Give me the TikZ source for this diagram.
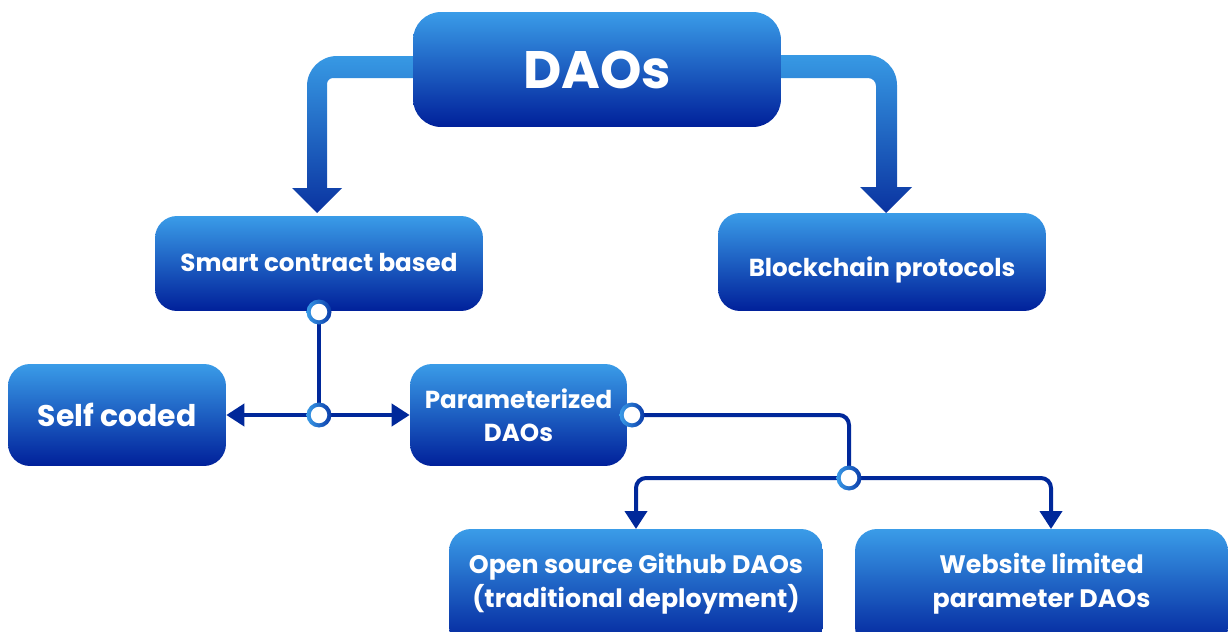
\documentclass[tikz,border=0pt]{standalone}
\usepackage{fontspec}
\setmainfont{Poppins}
\usetikzlibrary{arrows.meta}
\definecolor{boxtop}{HTML}{3A9CE8}
\definecolor{boxbot}{HTML}{00209A}
\definecolor{bandtop}{HTML}{3799E4}
\definecolor{bandbot}{HTML}{0A33A0}
\definecolor{navy}{HTML}{00289A}
\definecolor{ringlight}{HTML}{3A9CE8}
\definecolor{ringdark}{HTML}{0A3AA8}
\newcommand{\lowerby}[2]{\raisebox{#1}[\height][\depth]{#2}}
\tikzset{
  box/.style={rounded corners=0.44cm, top color=boxtop, bottom color=boxbot,
    text=white, font=\bfseries\fontsize{14}{19}\selectfont, align=center, inner sep=0pt},
  conn/.style={draw=navy, line width=0.08cm},
  tip/.style={-{Triangle[length=0.36cm,width=0.44cm]}},
  junction/.style={circle, minimum size=0.5cm, inner sep=0pt,
    left color=ringlight, right color=ringdark,
    path picture={\fill[white] (path picture bounding box.center) circle (0.165cm);}},
}
\begin{document}
\begin{tikzpicture}[x=0.02cm, y=-0.02cm]
\useasboundingbox (0,0) rectangle (1228,632);
\clip (0,0) rectangle (1228,632);
% big arrows
\shade[top color=bandtop, bottom color=bandbot]
  (430,56) -- (337,56) .. controls (320.4,56) and (307,69.4) .. (307,86)
  -- (307,188) -- (292,188) -- (317,213) -- (342,188) -- (327,188)
  -- (327,84) .. controls (327,80.7) and (329.7,78) .. (333,78) -- (430,78) -- cycle;
\shade[top color=bandtop, bottom color=bandbot]
  (770,55) -- (867,55) .. controls (883.5,55) and (897,68.4) .. (897,85)
  -- (897,187) -- (912,187) -- (886,213) -- (860,187) -- (876,187)
  -- (876,86) .. controls (876,81.6) and (872.4,78) .. (868,78) -- (770,78) -- cycle;
% boxes
\node[box, rounded corners=0.56cm, minimum width=7.36cm, minimum height=2.3cm,
  font=\bfseries\fontsize{30}{36}\selectfont] (daos) at (597,69.5) {DAOs};
\node[box, minimum width=6.56cm, minimum height=1.9cm] (smart) at (319,263.5) {\lowerby{0.03cm}{Smart contract based}};
\node[box, minimum width=6.56cm, minimum height=1.96cm] (chain) at (882,262) {\lowerby{-0.16cm}{Blockchain protocols}};
\node[box, minimum width=4.36cm, minimum height=2.04cm, font=\bfseries\fontsize{17}{22}\selectfont] (self) at (117,415) {Self coded};
\node[box, minimum width=4.34cm, minimum height=2.04cm] (param) at (518.5,415) {Parameterized\\DAOs};
\node[box, minimum width=7.48cm, minimum height=2.4cm, font=\bfseries\fontsize{14.4}{19.2}\selectfont] (github) at (636,589) {\lowerby{0.1cm}{\begin{tabular}{@{}c@{}}Open source Github DAOs\\(traditional deployment)\end{tabular}}};
\node[box, minimum width=7.46cm, minimum height=2.4cm, font=\bfseries\fontsize{14.4}{19.2}\selectfont] (web) at (1041.5,589) {\lowerby{0.1cm}{\begin{tabular}{@{}c@{}}Website limited\\parameter DAOs\end{tabular}}};
% junction points
\coordinate (j1) at (319,312);
\coordinate (j2) at (319,415);
\coordinate (j3) at (632,415);
\coordinate (j4) at (849,478);
% connectors
\draw[conn] (j1) -- (j2);
\draw[conn, tip] (j2) -- (self.east |- j2);
\draw[conn, tip] (j2) -- (param.west |- j2);
\draw[conn, rounded corners=0.2cm] (j3) -- (j4 |- j3) -- (j4);
\draw[conn, tip, rounded corners=0.2cm] (j4) -- (636,478) -- (636,529);
\draw[conn, tip, rounded corners=0.2cm] (j4) -- (1051,478) -- (1051,529);
% junction circles
\foreach \j in {j1,j2,j3,j4} \node[junction] at (\j) {};
\end{tikzpicture}
\end{document}
